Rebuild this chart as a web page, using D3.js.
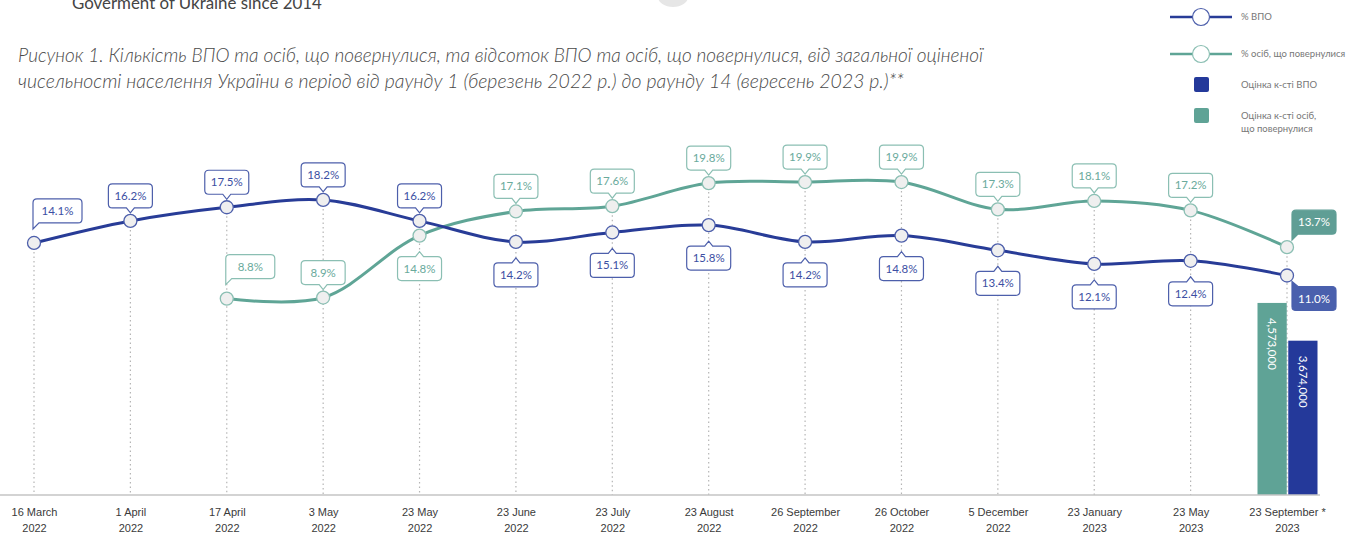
<!DOCTYPE html>
<html>
<head>
<meta charset="utf-8">
<script src="https://cdnjs.cloudflare.com/ajax/libs/d3/7.8.5/d3.min.js"></script>
<title>ВПО та особи, що повернулися</title>
<style>
body{
    margin: 0;
    padding: 0;
    background: #fff;
    overflow: hidden;
}
svg{
    display: block;
    font-family: Lato, "Noto Sans", sans-serif;
}
</style>
</head>
<body>
<div id="chart"></div>
<script>
// data
var tickDay = ["16 March", "1 April", "17 April", "3 May", "23 May", "23 June", "23 July",
    "23 August", "26 September", "26 October", "5 December", "23 January", "23 May", "23 September *"];
var tickYear = ["2022", "2022", "2022", "2022", "2022", "2022", "2022",
    "2022", "2022", "2022", "2022", "2023", "2023", "2023"];
var categories = tickDay.map(function(d, i){ return d + " " + tickYear[i]; });

var idpPct = [14.1, 16.2, 17.5, 18.2, 16.2, 14.2, 15.1, 15.8, 14.2, 14.8, 13.4, 12.1, 12.4, 11.0];
var retPct = [null, null, 8.8, 8.9, 14.8, 17.1, 17.6, 19.8, 19.9, 19.9, 17.3, 18.1, 17.2, 13.7];

var barSeries = ["Оцінка к-сті осіб, що повернулися", "Оцінка к-сті ВПО"];
var barValues = [4573000, 3674000];
var barCategory = categories[categories.length - 1];

var titleLines = [
    "Рисунок 1. Кількість ВПО та осіб, що повернулися, та відсоток ВПО та осіб, що повернулися, від загальної оціненої",
    "чисельності населення України в період від раунду 1 (березень 2022 р.) до раунду 14 (вересень 2023 р.)**"
];
var legendItems = ["% ВПО", "% осіб, що повернулися", "Оцінка к-сті ВПО", "Оцінка к-сті осіб,|що повернулися"];

// where each callout sits relative to its point
var idpLabelPos = ["upLeft", "up", "up", "up", "up", "down", "down", "down", "down", "down", "down", "down", "down", "right"];
var retLabelPos = [null, null, "upLeft", "up", "down", "up", "up", "up", "up", "up", "up", "up", "up", "rightUp"];

var W = 1357, H = 533, base = 495;
var blue = "#283c97", blueSoft = "#4d5fab", green = "#5fa596", greenSoft = "#8bbfb3";
var blueBar = "#24399a", greenBar = "#5fa396";

var svg = d3.select("#chart").append("svg").attr("width", W).attr("height", H);

var x = d3.scalePoint().domain(categories).range([34, 1287]);
var yPct = d3.scaleLinear().domain([0, 20]).range([391, 181]);
var yBar = d3.scaleLinear().domain([0, 5000000]).range([base, 285]);

function fitWidth(sel, target){
    var fs = +sel.attr("font-size"), l = sel.node().getComputedTextLength();
    sel.attr("font-size", (fs * target / l).toFixed(2));
}

// header remnants
svg.append("ellipse").attr("cx", 673).attr("cy", -3).attr("rx", 15).attr("ry", 10)
    .attr("fill", "#e6e6e6");
var hdr = svg.append("text").attr("x", 72).attr("y", 9).attr("font-size", 16)
    .attr("fill", "#444").text("Goverment of Ukraine since 2014");
fitWidth(hdr, 250);

// title
var titleW = [965, 886];
titleLines.forEach(function(t, i){
    var s = svg.append("text").attr("x", 18).attr("y", 62 + i * 26)
        .attr("font-size", 18).attr("font-style", "italic").attr("font-weight", 300)
        .attr("fill", "#4a4a4a").text(t);
    fitWidth(s, titleW[i]);
});

// dotted guides from top point down to axis
svg.append("g").selectAll("line").data(categories).enter().append("line")
    .attr("x1", function(d){ return x(d); })
    .attr("x2", function(d){ return x(d); })
    .attr("y1", function(d, i){
        var v = retPct[i] == null ? idpPct[i] : Math.max(idpPct[i], retPct[i]);
        return yPct(v);
    })
    .attr("y2", base)
    .attr("stroke", "#b5b5b5").attr("stroke-width", 1.2).attr("stroke-dasharray", "1.5,3");

// bars
var bx = d3.scaleBand().domain(barSeries).range([x(barCategory) - 29.5, x(barCategory) + 30.5]).paddingInner(0.05);
var bars = svg.append("g").selectAll("g").data(barValues).enter().append("g");
bars.append("rect")
    .attr("x", function(d, i){ return bx(barSeries[i]); })
    .attr("width", bx.bandwidth())
    .attr("y", function(d){ return yBar(d); })
    .attr("height", function(d){ return base - yBar(d); })
    .attr("fill", function(d, i){ return i == 0 ? greenBar : blueBar; });
bars.append("text")
    .attr("transform", function(d, i){
        return "translate(" + (bx(barSeries[i]) + bx.bandwidth() / 2 - 4) + "," + (yBar(d) + 15) + ") rotate(90)";
    })
    .attr("font-size", 11.5).attr("fill", "#fff")
    .text(function(d){ return d3.format(",")(d); });

// axis
var axis = svg.append("g").attr("transform", "translate(0," + base + ")")
    .call(d3.axisBottom(x).tickSize(0).tickFormat(""));
axis.select(".domain").remove();
svg.append("line").attr("x1", 0).attr("x2", 1320).attr("y1", base).attr("y2", base)
    .attr("stroke", "#c4c4c4").attr("stroke-width", 1.5);
axis.selectAll(".tick").each(function(d, i){
    var t = d3.select(this).append("text").attr("fill", "#3a3a3a").attr("font-size", 11)
        .attr("text-anchor", "middle");
    t.append("tspan").attr("x", 0).attr("y", 21).text(tickDay[i]);
    t.append("tspan").attr("x", 0).attr("y", 37).text(tickYear[i]);
});

// lines + markers
function drawSeries(vals, col, soft){
    var pts = vals.map(function(v, i){ return {v: v, i: i}; }).filter(function(d){ return d.v != null; });
    svg.append("path")
        .attr("d", d3.line().x(function(d){ return x(categories[d.i]); }).y(function(d){ return yPct(d.v); })
            .curve(d3.curveCatmullRom.alpha(0.5))(pts))
        .attr("fill", "none").attr("stroke", col).attr("stroke-width", 3);
    svg.append("g").selectAll("circle").data(pts).enter().append("circle")
        .attr("cx", function(d){ return x(categories[d.i]); })
        .attr("cy", function(d){ return yPct(d.v); })
        .attr("r", 6.5)
        .attr("fill", "#efefef").attr("stroke", soft).attr("stroke-width", 1.3);
}
drawSeries(retPct, green, greenSoft);
drawSeries(idpPct, blue, blueSoft);

// callouts
function bubble(bx0, by0, w, h, notch, cx){
    var r = 4, p = d3.path();
    if(notch == "topLeft"){
        p.moveTo(bx0, by0 - 5); p.lineTo(bx0 + 6, by0);
    }else{
        p.moveTo(bx0 + r, by0);
    }
    if(notch == "top"){ p.lineTo(cx - 4, by0); p.lineTo(cx, by0 - 5); p.lineTo(cx + 4, by0); }
    p.lineTo(bx0 + w - r, by0);
    p.quadraticCurveTo(bx0 + w, by0, bx0 + w, by0 + r);
    p.lineTo(bx0 + w, by0 + h - r);
    p.quadraticCurveTo(bx0 + w, by0 + h, bx0 + w - r, by0 + h);
    if(notch == "bottom"){ p.lineTo(cx + 4, by0 + h); p.lineTo(cx, by0 + h + 5); p.lineTo(cx - 4, by0 + h); }
    if(notch == "bottomLeft"){
        p.lineTo(bx0 + 6, by0 + h); p.lineTo(bx0, by0 + h + 6);
    }else{
        p.lineTo(bx0 + r, by0 + h);
        p.quadraticCurveTo(bx0, by0 + h, bx0, by0 + h - r);
    }
    if(notch == "topLeft"){
        p.closePath();
    }else{
        p.lineTo(bx0, by0 + r);
        p.quadraticCurveTo(bx0, by0, bx0 + r, by0);
        p.closePath();
    }
    return p.toString();
}

function drawLabels(vals, pos, col, soft, fillCol){
    var g = svg.append("g");
    vals.forEach(function(v, i){
        if(v == null){ return; }
        var px = x(categories[i]), py = yPct(v), w = 44, h = 24, bx0, by0, notch, filled = false;
        if(pos[i] == "up"){ bx0 = px - w / 2; by0 = py - 13 - h; notch = "bottom"; }
        else if(pos[i] == "down"){ bx0 = px - w / 2; by0 = py + 21; notch = "top"; }
        else if(pos[i] == "upLeft"){ w = 49; bx0 = px - 1; by0 = py - 20 - h; notch = "bottomLeft"; }
        else if(pos[i] == "right"){ bx0 = px + 5; by0 = py + 11; notch = "topLeft"; filled = true; }
        else { bx0 = px + 5; by0 = py - 13 - h; notch = "bottomLeft"; filled = true; }
        g.append("path").attr("d", bubble(bx0, by0, w, h, notch, px))
            .attr("fill", filled ? fillCol : "#fff")
            .attr("stroke", filled ? fillCol : soft).attr("stroke-width", 1.2);
        g.append("text").attr("x", bx0 + w / 2).attr("y", by0 + h / 2 + 4)
            .attr("text-anchor", "middle").attr("font-size", 11.5)
            .attr("fill", filled ? "#fff" : col)
            .text(d3.format(".1f")(v) + "%");
    });
}
drawLabels(idpPct, idpLabelPos, "#3c4fa3", blueSoft, "#4a60ad");
drawLabels(retPct, retLabelPos, "#6aaa9c", greenSoft, "#5f9e95");

// legend
var leg = svg.append("g");
[[blue, blueSoft, 17], [green, greenSoft, 54]].forEach(function(d){
    leg.append("line").attr("x1", 1170).attr("x2", 1232).attr("y1", d[2]).attr("y2", d[2])
        .attr("stroke", d[0]).attr("stroke-width", 2.5);
    leg.append("circle").attr("cx", 1201).attr("cy", d[2]).attr("r", 8.5)
        .attr("fill", "#fff").attr("stroke", d[1]).attr("stroke-width", 1.2);
});
[[blueBar, 77], [greenBar, 108]].forEach(function(d){
    leg.append("rect").attr("x", 1194).attr("y", d[1]).attr("width", 15).attr("height", 15)
        .attr("rx", 2).attr("fill", d[0]);
});
var legY = [20, 57, 88, 119];
legendItems.forEach(function(t, i){
    var tx = leg.append("text").attr("x", 1241).attr("y", legY[i]).attr("font-size", 9.5)
        .attr("fill", "#777");
    t.split("|").forEach(function(s, j){
        tx.append("tspan").attr("x", 1241).attr("dy", j ? 12.5 : 0).text(s);
    });
});
</script>
</body>
</html>
